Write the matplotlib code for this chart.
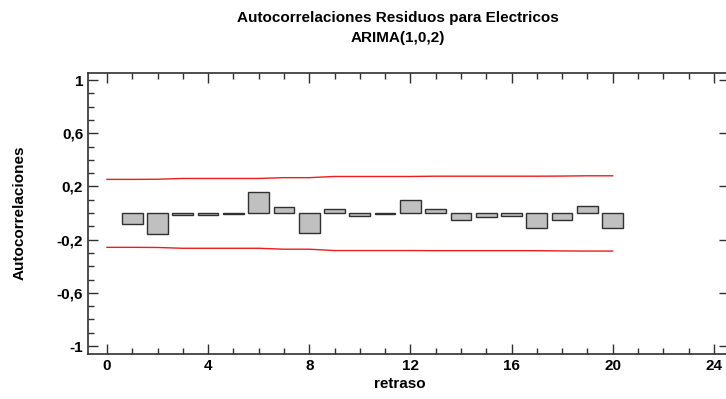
import matplotlib
matplotlib.use('Agg')
import matplotlib.pyplot as plt
import numpy as np
from matplotlib.ticker import MultipleLocator, FuncFormatter

plt.rcParams['font.family'] = ['Liberation Sans', 'DejaVu Sans']
plt.rcParams['font.weight'] = 'bold'

lags = np.arange(1, 21)
acf = [-0.08, -0.157, -0.017, -0.017, -0.005, 0.16, 0.043, -0.148, 0.034, -0.02,
       -0.005, 0.10, 0.032, -0.05, -0.03, -0.022, -0.11, -0.05, 0.055, -0.11]
lim_lags = np.arange(0, 21)
upper = [0.253, 0.253, 0.254, 0.26, 0.26, 0.26, 0.26, 0.266, 0.266, 0.275, 0.275,
         0.275, 0.275, 0.277, 0.277, 0.277, 0.277, 0.277, 0.278, 0.28, 0.28]
lower = [-0.258, -0.258, -0.259, -0.265, -0.265, -0.265, -0.265, -0.272, -0.272, -0.282, -0.282,
         -0.282, -0.282, -0.283, -0.283, -0.283, -0.283, -0.283, -0.285, -0.286, -0.286]

FS = 11

fig = plt.figure(figsize=(7.26, 3.99), dpi=100)
ax = fig.add_axes([88/726, 1-354/399, (729-88)/726, (354-73)/399])

ax.bar(lags, acf, width=0.82, color='#c0c0c0', edgecolor='#303030', linewidth=1.0)
ax.plot(lim_lags, upper, color='#ee1c1c', lw=1.0)
ax.plot(lim_lags, lower, color='#ee1c1c', lw=1.0)

ax.set_xlim(-0.75, 24.6)
ax.set_ylim(-1.06, 1.053)
ax.xaxis.set_major_locator(MultipleLocator(4))
ax.xaxis.set_minor_locator(MultipleLocator(1))
ax.set_yticks([-1, -0.6, -0.2, 0.2, 0.6, 1])
ax.yaxis.set_minor_locator(MultipleLocator(0.1))
ax.yaxis.set_major_formatter(FuncFormatter(lambda v, p: ('%g' % round(v, 2)).replace('.', ',')))

ax.tick_params(which='both', direction='in', top=True, right=True, labelsize=FS, width=1.0, color='#303030')
ax.tick_params(which='major', length=7)
ax.tick_params(which='minor', length=4, right=False)
for lab in ax.get_xticklabels() + ax.get_yticklabels():
    lab.set_fontweight('bold')
for s in ['left', 'bottom', 'top']:
    ax.spines[s].set_linewidth(1.2)
    ax.spines[s].set_color('#303030')
ax.spines['right'].set_visible(False)

ax.set_xlabel('retraso', fontsize=FS, fontweight='bold')
ax.xaxis.set_label_coords((400-88)/641, -(377-354)/281)
ax.set_ylabel('Autocorrelaciones', fontsize=FS, fontweight='bold')
ax.yaxis.set_label_coords(-(88-27)/641, (354-213)/281)

fig.text(398/726, 1-18/399, 'Autocorrelaciones Residuos para Electricos', ha='center', va='center',
         fontsize=FS, fontweight='bold')
fig.text(398/726, 1-38/399, 'ARIMA(1,0,2)', ha='center', va='center', fontsize=FS, fontweight='bold')

plt.savefig('out.png', dpi=100)
